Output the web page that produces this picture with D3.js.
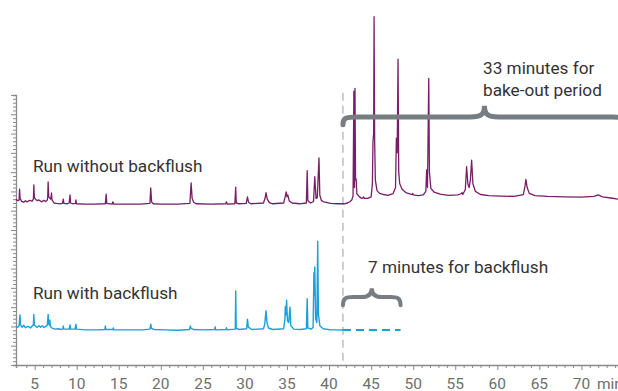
<!DOCTYPE html>
<html>
<head>
<meta charset="utf-8">
<script src="https://cdn.jsdelivr.net/npm/d3@7"></script>
<style>
  html, body { margin: 0; padding: 0; background: #fff; }
  svg { display: block; font-family: Roboto, "Noto Sans", sans-serif; }
</style>
</head>
<body>
<svg id="chart" width="618" height="391"></svg>
<script>
// ---------------- DATA ----------------
const timeLabels = [5, 10, 15, 20, 25, 30, 35, 40, 45, 50, 55, 60, 65, 70];
const timeUnit = "min";
const backflushStart = 41.65;      // min
const backflushEnd = 48.5;         // min (7 minutes for backflush)
const bakeoutEnd = 75.3;           // min (33 minutes bake-out)

// Chromatogram "Run without backflush": [time (min), signal]
const withoutBackflush = [
  [2.78,43.0],[3.0,42.6],[3.15,42.8],[3.2,45.6],[3.27,43.2],[3.45,42.4],[3.7,42.2],[3.9,42.6],[4.1,42.3],[4.4,42.7],
  [4.7,42.5],[4.85,43.0],[4.9,46.7],[4.96,43.4],[5.1,43.0],[5.3,42.6],[5.5,42.8],[5.8,42.3],[6.1,42.7],[6.3,42.4],
  [6.5,42.8],[6.55,43.4],[6.6,47.5],[6.67,43.6],[6.9,43.0],[6.95,43.6],[7.0,44.6],[7.06,42.8],[7.3,42.0],[7.6,41.9],
  [8.0,41.8],[8.3,41.9],[8.4,43.0],[8.47,41.9],[8.9,41.8],[9.1,42.0],[9.2,44.1],[9.27,42.0],[9.5,41.8],[9.85,41.9],
  [9.9,42.8],[9.96,41.8],[11,41.7],[12,41.7],[13.4,41.8],[13.5,44.3],[13.57,41.9],[14.2,41.7],[14.3,42.3],[14.4,41.7],
  [16,41.7],[17.5,41.7],[18.7,41.9],[18.8,45.9],[18.9,42.3],[19.1,41.8],[20,41.7],[22,41.7],[23.45,41.9],[23.6,47.2],
  [23.72,43.2],[23.9,42.2],[24.2,41.8],[26,41.7],[27.7,41.8],[27.8,42.3],[27.9,41.7],[28.8,41.8],[28.9,46.1],[28.97,42.0],
  [29.3,41.8],[30.15,41.9],[30.3,43.6],[30.42,42.2],[30.7,41.8],[32.2,42.0],[32.4,43.3],[32.5,44.7],[32.65,43.0],[32.9,42.1],
  [33.3,41.8],[34.6,42.0],[34.8,43.8],[34.9,44.9],[35.0,43.6],[35.1,44.1],[35.25,42.6],[35.6,42.0],[36.5,41.8],[37.3,42.0],
  [37.4,50.4],[37.48,42.6],[37.8,42.0],[38.15,42.4],[38.3,48.8],[38.45,43.2],[38.6,43.4],[38.8,53.7],[38.9,44.0],[39.1,42.6],
  [39.5,42.2],[40.2,41.9],[41.0,41.8],[41.8,41.8],[42.2,42.0],[42.5,42.4],[42.7,42.8],[42.85,43.8],[42.95,71.0],[43.02,46.0],
  [43.08,71.7],[43.15,48.0],[43.22,48.2],[43.3,44.4],[43.6,43.6],[43.9,43.2],[44.05,43.3],[44.1,43.6],[44.2,43.2],[44.6,43.2],
  [45.0,43.6],[45.15,47.0],[45.22,57.9],[45.3,60.0],[45.35,90.3],[45.42,58.0],[45.5,48.0],[45.7,45.2],[46.0,44.5],[46.5,44.2],
  [47.0,44.0],[47.6,44.4],[47.9,46.0],[48.0,58.8],[48.1,55.0],[48.2,79.3],[48.28,50.0],[48.4,47.0],[48.7,45.5],[49.2,44.6],
  [49.9,44.2],[49.95,44.5],[50.0,44.1],[50.6,43.9],[51.2,44.1],[51.5,45.0],[51.6,50.6],[51.7,46.0],[51.85,74.3],[51.93,50.0],
  [52.1,45.8],[52.5,44.8],[53.2,44.3],[54.2,44.0],[55.3,44.1],[55.7,44.4],[55.8,44.7],[55.9,44.2],[56.2,45.5],[56.35,51.4],
  [56.5,47.0],[56.65,46.0],[56.8,48.0],[56.95,53.1],[57.1,47.0],[57.4,45.0],[58,44.2],[59,43.9],[60.5,43.8],[62,43.7],
  [63.1,44.2],[63.3,46.5],[63.4,48.1],[63.55,46.0],[63.8,44.5],[64.5,43.9],[66,43.7],[68,43.6],[70,43.5],[71.5,43.7],
  [72.0,44.1],[72.5,43.6],[73.5,43.3],[74.4,43.0]
];

// Chromatogram "Run with backflush": [time (min), signal]
const withBackflush = [
  [2.78,10.0],[3.0,9.8],[3.15,10.2],[3.25,13.0],[3.32,10.4],[3.5,9.8],[3.7,10.3],[3.9,9.7],[4.2,10.0],[4.5,9.6],
  [4.7,10.1],[4.85,10.4],[4.9,13.1],[4.97,10.3],[5.1,10.1],[5.3,9.7],[5.5,10.2],[5.7,9.8],[5.9,10.2],[6.1,9.7],
  [6.3,10.0],[6.5,10.3],[6.6,13.1],[6.66,10.6],[6.75,10.4],[6.8,11.7],[6.87,10.0],[7.1,9.5],[7.4,9.3],[7.8,9.4],
  [8.2,9.2],[8.35,9.4],[8.4,10.1],[8.46,9.3],[9.1,9.3],[9.2,10.4],[9.27,9.3],[9.8,9.3],[9.9,10.6],[9.97,9.3],
  [11,9.1],[12.5,9.1],[13.35,9.2],[13.4,10.1],[13.47,9.2],[14.3,9.2],[14.35,9.6],[14.42,9.1],[16,9.1],[17.8,9.1],
  [18.7,9.3],[18.8,10.6],[18.88,9.5],[19.2,9.2],[20.5,9.1],[22,9.0],[23.4,9.2],[23.5,10.1],[23.6,9.5],[23.9,9.2],
  [25,9.1],[26.4,9.2],[26.45,9.9],[26.52,9.1],[27.75,9.2],[27.8,9.7],[27.86,9.1],[28.85,9.3],[28.9,19.2],[28.96,9.5],
  [29.3,9.2],[30.2,9.4],[30.3,11.9],[30.4,9.8],[30.8,9.2],[32.2,9.4],[32.35,10.5],[32.5,14.1],[32.62,11.0],[32.8,9.6],
  [33.3,9.2],[34.6,9.4],[34.75,12.0],[34.8,15.2],[34.87,13.0],[34.95,16.8],[35.05,11.5],[35.2,11.0],[35.35,15.0],[35.45,10.2],
  [35.8,9.3],[36.6,9.2],[37.3,9.4],[37.4,17.2],[37.48,9.6],[37.9,9.3],[38.1,9.8],[38.2,23.9],[38.25,18.0],[38.3,25.4],
  [38.4,12.0],[38.55,11.0],[38.65,32.1],[38.73,13.0],[38.8,12.1],[38.9,10.2],[39.3,9.4],[40.2,9.1],[41.0,9.1],[41.65,9.07]
];
// Flat (skipped) part of the backflush run
const withBackflushFlat = [[41.65, 9.07], [48.5, 9.07]];

const labelWithout = "Run without backflush";
const labelWith = "Run with backflush";
const noteBakeout = ["33 minutes for", "bake-out period"];
const noteBackflush = "7 minutes for backflush";

// ---------------- DRAW ----------------
const svg = d3.select("#chart");
const x = d3.scaleLinear().domain([2.78, 74.35]).range([16, 618]);
const y = d3.scaleLinear().domain([0, 70]).range([365, 95]);

const axisColor = "#8a8a8a";
const purple = "#7a1d69";
const blue = "#1aa0dc";
const braceColor = "#787d82";

// Y axis
const yAxis = svg.append("g").attr("transform", `translate(${x(2.78)},0)`)
  .call(d3.axisLeft(y).tickValues(d3.range(0, 71)).tickSize(3).tickFormat(""));
yAxis.select(".domain").attr("stroke", axisColor).attr("stroke-width", 1.3);
yAxis.selectAll(".tick line").attr("stroke", axisColor)
  .attr("x2", d => d % 5 === 0 ? -5 : -3);

// X axis
const xAxis = svg.append("g").attr("transform", `translate(0,${y(0)})`)
  .call(d3.axisBottom(x).tickValues(d3.range(4, 75)).tickSize(3).tickFormat(""));
xAxis.select(".domain").attr("stroke", axisColor).attr("stroke-width", 1.5);
xAxis.selectAll(".tick line").attr("stroke", axisColor)
  .attr("y2", d => d % 5 === 0 ? 5 : 3);
svg.append("g").selectAll("text").data(timeLabels).join("text")
  .attr("x", d => x(d)).attr("y", y(0) + 23.5)
  .attr("text-anchor", "middle").attr("font-size", 15.5).attr("fill", "#6e6e6e")
  .text(d => d);
svg.append("text").attr("x", x(71.85)).attr("y", y(0) + 23.5)
  .attr("font-size", 15.5).attr("fill", "#6e6e6e").text(timeUnit);

// Dashed vertical line at backflush start
svg.append("line")
  .attr("x1", x(backflushStart)).attr("x2", x(backflushStart))
  .attr("y1", y(70.6)).attr("y2", y(0))
  .attr("stroke", "#b4b4b4").attr("stroke-width", 1.3).attr("stroke-dasharray", "8,5");

const line = d3.line().x(d => x(d[0])).y(d => y(d[1]));

svg.append("path").datum(withoutBackflush).attr("d", line)
  .attr("fill", "none").attr("stroke", purple).attr("stroke-width", 1.3).attr("stroke-linejoin", "round");
svg.append("path").datum(withBackflush).attr("d", line)
  .attr("fill", "none").attr("stroke", blue).attr("stroke-width", 1.4).attr("stroke-linejoin", "round");
svg.append("path").datum(withBackflushFlat).attr("d", line)
  .attr("fill", "none").attr("stroke", blue).attr("stroke-width", 2).attr("stroke-dasharray", "8,5");

// Braces
function brace(x0, x1, yh, tipY, endY, r) {
  const xm = (x0 + x1) / 2;
  return `M${x0},${endY} C${x0},${yh + 1} ${x0 + 3},${yh} ${x0 + r},${yh}` +
    ` L${xm - r},${yh} C${xm - 4},${yh} ${xm},${yh - 2} ${xm},${tipY}` +
    ` C${xm},${yh - 2} ${xm + 4},${yh} ${xm + r},${yh}` +
    ` L${x1 - r},${yh} C${x1 - 3},${yh} ${x1},${yh + 1} ${x1},${endY}`;
}
svg.append("path")
  .attr("d", brace(x(backflushStart), x(bakeoutEnd), y(64.3), y(67.2), y(62.3), 14))
  .attr("fill", "none").attr("stroke", braceColor).attr("stroke-width", 5).attr("stroke-linecap", "round");
svg.append("path")
  .attr("d", brace(x(backflushStart), x(backflushEnd), y(17.6), y(19.9), y(15.5), 10))
  .attr("fill", "none").attr("stroke", braceColor).attr("stroke-width", 4).attr("stroke-linecap", "round");

// Labels
const txt = (tx, ty, s) => svg.append("text").attr("x", tx).attr("y", ty)
  .attr("font-size", 17.2).attr("fill", "#333").text(s);
txt(33, 172, labelWithout);
txt(33, 299, labelWith);
txt(368, 273, noteBackflush);
txt(483, 74, noteBakeout[0]);
txt(483, 96, noteBakeout[1]);
</script>
</body>
</html>
